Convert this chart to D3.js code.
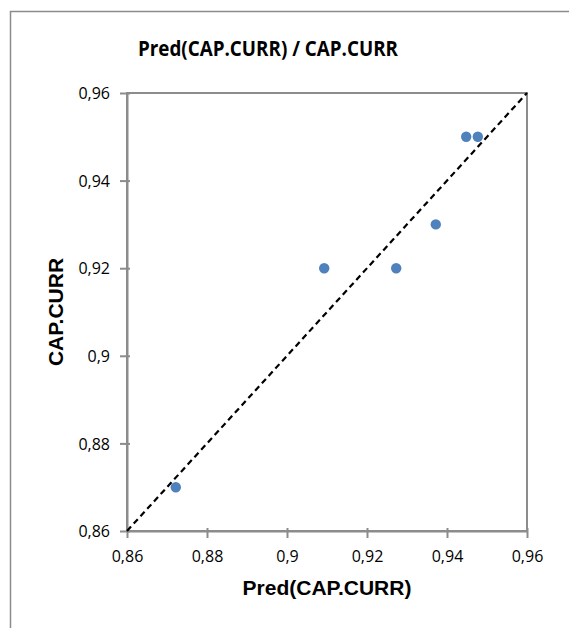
<!DOCTYPE html>
<html>
<head>
<meta charset="utf-8">
<script src="https://cdn.jsdelivr.net/npm/d3@7"></script>
<style>
  html, body { margin: 0; padding: 0; background: #fff; }
  svg { display: block; }
</style>
</head>
<body>
<svg id="chart" width="569" height="628"></svg>
<script>
const titleText = "Pred(CAP.CURR) / CAP.CURR";
const xTitle = "Pred(CAP.CURR)";
const yTitle = "CAP.CURR";
const predValues = [0.8722, 0.9093, 0.9273, 0.9372, 0.9448, 0.9477];
const actualValues = [0.87, 0.92, 0.92, 0.93, 0.95, 0.95];
const tickValues = [0.86, 0.88, 0.9, 0.92, 0.94, 0.96];
const diagLine = [0.86, 0.96];

const svg = d3.select("#chart");
const L = 127, R = 527, T = 93, B = 531;

const x = d3.scaleLinear().domain([0.86, 0.96]).range([L, R]);
const y = d3.scaleLinear().domain([0.86, 0.96]).range([B, T]);
const fmt = d => String(+d.toFixed(2)).replace(".", ",");
const tickFont = "'Open Sans', sans-serif";

// outer border (left and top only visible)
svg.append("path")
  .attr("d", "M10.5,628 L10.5,11.5 L569,11.5")
  .attr("fill", "none").attr("stroke", "#8c8c8c").attr("stroke-width", 1.5);

// plot frame
svg.append("rect")
  .attr("x", L).attr("y", T).attr("width", R - L).attr("height", B - T)
  .attr("fill", "none").attr("stroke", "#8c8c8c").attr("stroke-width", 2);

// axes
const xAxis = d3.axisBottom(x).tickValues(tickValues).tickFormat(fmt).tickSize(7).tickSizeOuter(0);
const gx = svg.append("g").attr("transform", `translate(0,${B})`).call(xAxis);
const yAxis = d3.axisLeft(y).tickValues(tickValues).tickFormat(fmt).tickSize(7).tickSizeOuter(0);
const gy = svg.append("g").attr("transform", `translate(${L},0)`).call(yAxis);
[gx, gy].forEach(g => {
  g.attr("font-family", null).attr("font-size", null);
  g.select(".domain").attr("stroke", "#8c8c8c").attr("stroke-width", 2);
  g.selectAll(".tick line").attr("stroke", "#8c8c8c").attr("stroke-width", 2);
  g.selectAll(".tick text").attr("fill", "#000")
    .style("font-family", tickFont).style("font-size", "16px");
});
gx.selectAll(".tick line").attr("y1", -3);
gx.selectAll(".tick text").attr("dy", "0").attr("y", 31);
gy.selectAll(".tick line").attr("x1", 3);
gy.selectAll(".tick text").attr("x", -17).attr("dy", "0.36em");

// diagonal
svg.append("line")
  .attr("x1", x(diagLine[0])).attr("y1", y(diagLine[0]))
  .attr("x2", x(diagLine[1])).attr("y2", y(diagLine[1]))
  .attr("stroke", "#000").attr("stroke-width", 2.2).attr("stroke-dasharray", "6,4");

// points
svg.append("g").selectAll("circle")
  .data(predValues.map((p, i) => [p, actualValues[i]]))
  .join("circle")
  .attr("cx", d => x(d[0])).attr("cy", d => y(d[1])).attr("r", 5.2)
  .attr("fill", "#4F81BD");

// title
svg.append("text")
  .attr("x", 268).attr("y", 56).attr("text-anchor", "middle")
  .attr("textLength", 260).attr("lengthAdjust", "spacingAndGlyphs")
  .style("font-family", "'Open Sans', sans-serif")
  .style("font-weight", "bold").style("font-size", "21px")
  .text(titleText);

// x title
svg.append("text")
  .attr("x", 327).attr("y", 595).attr("text-anchor", "middle")
  .style("font-family", "'Liberation Sans', Arial, sans-serif")
  .style("font-weight", "bold").style("font-size", "21px")
  .text(xTitle);

// y title
svg.append("text")
  .attr("transform", "translate(63,312) rotate(-90)").attr("text-anchor", "middle")
  .style("font-family", "'Liberation Sans', Arial, sans-serif")
  .style("font-weight", "bold").style("font-size", "21px")
  .text(yTitle);
</script>
</body>
</html>
